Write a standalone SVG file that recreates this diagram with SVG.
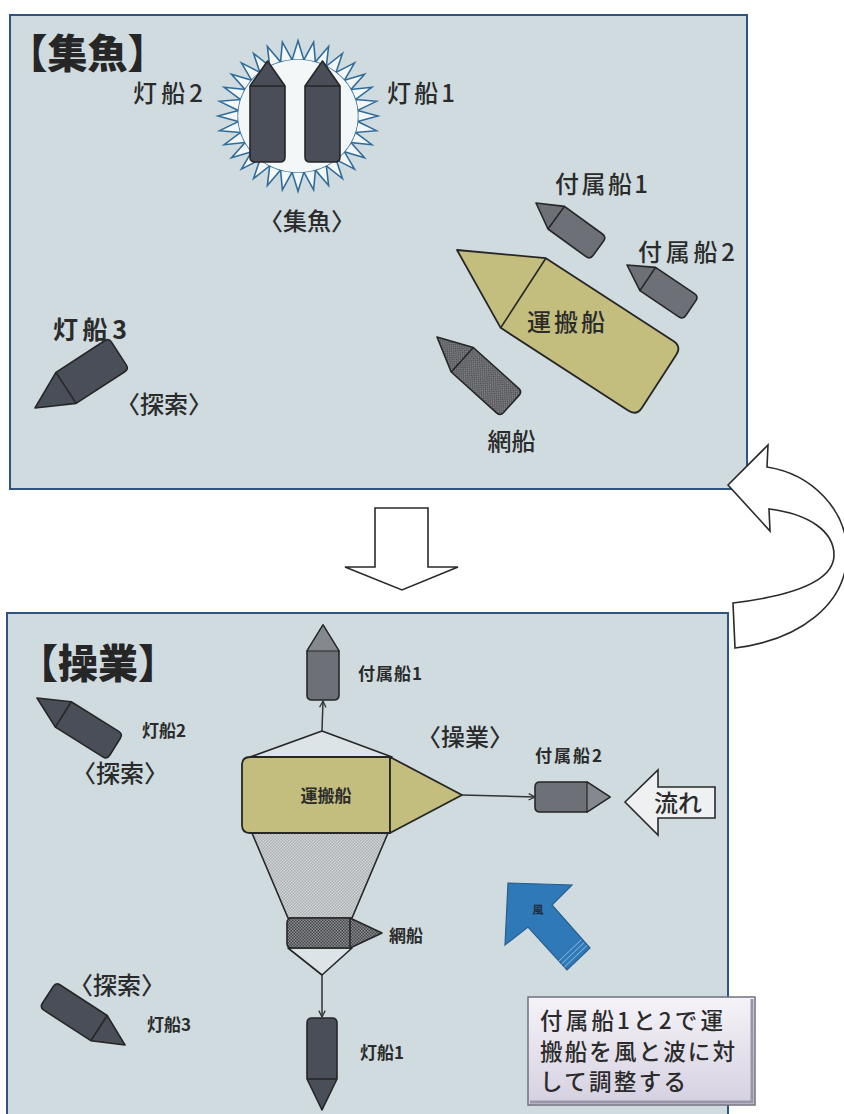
<svg xmlns="http://www.w3.org/2000/svg" xmlns:xlink="http://www.w3.org/1999/xlink" width="844" height="1114" viewBox="0 0 844 1114">
  <style>
    text { font-family: "Noto Sans CJK JP", "Noto Sans", sans-serif; fill: #2b2b2b; }
    .title { font-size: 40px; font-weight: 900; fill: #262626; }
    .lbl { font-size: 24px; font-weight: 500; }
    .lbl-b { font-size: 25px; font-weight: 700; }
    .sm { font-size: 17px; font-weight: 700; }
    .note { font-size: 22.5px; font-weight: 500; }
    .panel { fill: #cfdbdf; stroke: #2f5480; stroke-width: 2; }
    .edge { fill: none; stroke: #262626; stroke-width: 1.6; }
    .lamp { fill: #4a4e59; stroke: #262626; stroke-width: 1.6; stroke-linejoin: round; }
    .tender { fill: #6d7077; stroke: #262626; stroke-width: 1.6; stroke-linejoin: round; }
    .tnose { fill: #85888e; stroke: #262626; stroke-width: 1.2; stroke-linejoin: round; }
    .carrier { fill: #c3bd7e; stroke: #262626; stroke-width: 1.8; stroke-linejoin: round; }
    .netboat { fill: url(#hatchDark); stroke: #262626; stroke-width: 1.6; stroke-linejoin: round; }
    .netarea { fill: url(#hatchLight); stroke: #262626; stroke-width: 1.6; stroke-linejoin: round; }
    .rope { fill: #dde4e7; stroke: #262626; stroke-width: 1.6; stroke-linejoin: round; }
    .conn { fill: none; stroke: #333; stroke-width: 1.5; marker-end: url(#arr); }
    .block { fill: #ffffff; stroke: #2a2a2a; stroke-width: 1.6; stroke-linejoin: miter; }
  </style>
  <defs>
    <pattern id="hatchDark" width="3" height="3" patternUnits="userSpaceOnUse">
      <rect width="3" height="3" fill="#8a8c90"/>
      <rect width="1.5" height="1.5" fill="#45474c"/>
      <rect x="1.5" y="1.5" width="1.5" height="1.5" fill="#45474c"/>
    </pattern>
    <pattern id="hatchLight" width="3" height="3" patternUnits="userSpaceOnUse">
      <rect width="3" height="3" fill="#d3d7d9"/>
      <rect width="1.5" height="1.5" fill="#a9aeb1"/>
      <rect x="1.5" y="1.5" width="1.5" height="1.5" fill="#a9aeb1"/>
    </pattern>
    <linearGradient id="noteFill" x1="0" y1="0" x2="0" y2="1">
      <stop offset="0" stop-color="#f5f3f8"/>
      <stop offset="1" stop-color="#d5d0e0"/>
    </linearGradient>
    <marker id="arr" viewBox="0 0 10 10" refX="9" refY="5" markerWidth="8" markerHeight="8" markerUnits="userSpaceOnUse" orient="auto">
      <path d="M1,1 L9,5 L1,9" fill="none" stroke="#333" stroke-width="1.6"/>
    </marker>
    <!-- spike of the light burst -->
    <path id="spike" d="M-5.9,-59.7 L0,-80 L5.9,-59.7 Z"/>
    <!-- hull shapes: bow at origin, stern toward +y -->
    <path id="lampTall" d="M0,0 L17.5,25 L17.5,96 Q17.5,101 12.5,101 L-12.5,101 Q-17.5,101 -17.5,96 L-17.5,25 Z"/>
    <path id="lampTallLine" d="M-17.5,25 H17.5"/>
    <path id="tenderTop" d="M0,0 L14,25 L14,72 Q14,77 9,77 L-9,77 Q-14,77 -14,72 L-14,25 Z"/>
    <path id="tenderTopLine" d="M-14,25 H14"/>
    <path id="lampSmall" d="M0,0 L15,31 L15,87 Q15,92 10,92 L-10,92 Q-15,92 -15,87 L-15,31 Z"/>
    <path id="lampSmallLine" d="M-15,31 H15"/>
  </defs>

  <!-- ===== upper panel : gathering fish ===== -->
  <g id="panel-gather">
    <rect class="panel" x="10" y="15" width="737" height="474"/>
    <text class="title" x="87.5" y="68" text-anchor="middle">【集魚】</text>
  </g>

  <g id="light-burst" transform="translate(298,116) scale(1,0.94)">
    <g fill="#f4f7f8" stroke="#2f6c9c" stroke-width="1.6" stroke-linejoin="miter">
      <use xlink:href="#spike" transform="rotate(0)"/>
      <use xlink:href="#spike" transform="rotate(11.25)"/>
      <use xlink:href="#spike" transform="rotate(22.5)"/>
      <use xlink:href="#spike" transform="rotate(33.75)"/>
      <use xlink:href="#spike" transform="rotate(45)"/>
      <use xlink:href="#spike" transform="rotate(56.25)"/>
      <use xlink:href="#spike" transform="rotate(67.5)"/>
      <use xlink:href="#spike" transform="rotate(78.75)"/>
      <use xlink:href="#spike" transform="rotate(90)"/>
      <use xlink:href="#spike" transform="rotate(101.25)"/>
      <use xlink:href="#spike" transform="rotate(112.5)"/>
      <use xlink:href="#spike" transform="rotate(123.75)"/>
      <use xlink:href="#spike" transform="rotate(135)"/>
      <use xlink:href="#spike" transform="rotate(146.25)"/>
      <use xlink:href="#spike" transform="rotate(157.5)"/>
      <use xlink:href="#spike" transform="rotate(168.75)"/>
      <use xlink:href="#spike" transform="rotate(180)"/>
      <use xlink:href="#spike" transform="rotate(191.25)"/>
      <use xlink:href="#spike" transform="rotate(202.5)"/>
      <use xlink:href="#spike" transform="rotate(213.75)"/>
      <use xlink:href="#spike" transform="rotate(225)"/>
      <use xlink:href="#spike" transform="rotate(236.25)"/>
      <use xlink:href="#spike" transform="rotate(247.5)"/>
      <use xlink:href="#spike" transform="rotate(258.75)"/>
      <use xlink:href="#spike" transform="rotate(270)"/>
      <use xlink:href="#spike" transform="rotate(281.25)"/>
      <use xlink:href="#spike" transform="rotate(292.5)"/>
      <use xlink:href="#spike" transform="rotate(303.75)"/>
      <use xlink:href="#spike" transform="rotate(315)"/>
      <use xlink:href="#spike" transform="rotate(326.25)"/>
      <use xlink:href="#spike" transform="rotate(337.5)"/>
      <use xlink:href="#spike" transform="rotate(348.75)"/>
    </g>
    <circle r="59.8" fill="#f4f7f8"/>
  </g>

  <g id="g-lamp2">
    <g transform="translate(267.5,61)">
      <use xlink:href="#lampTall" class="lamp"/>
      <use xlink:href="#lampTallLine" class="edge"/>
    </g>
    <text class="lbl" x="133" y="102" textLength="70" lengthAdjust="spacing">灯船2</text>
  </g>

  <g id="g-lamp1">
    <g transform="translate(322.5,61)">
      <use xlink:href="#lampTall" class="lamp"/>
      <use xlink:href="#lampTallLine" class="edge"/>
    </g>
    <text class="lbl" x="387" y="102" textLength="68" lengthAdjust="spacing">灯船1</text>
  </g>

  <text class="lbl" x="307" y="230" text-anchor="middle">〈集魚〉</text>

  <g id="g-tender1">
    <g transform="translate(536,203) rotate(-54)">
      <use xlink:href="#tenderTop" class="tender"/>
      <use xlink:href="#tenderTopLine" class="edge"/>
    </g>
    <text class="lbl" x="555" y="193" textLength="93" lengthAdjust="spacing">付属船1</text>
  </g>

  <g id="g-tender2">
    <g transform="translate(627,265) rotate(-56)">
      <use xlink:href="#tenderTop" class="tender"/>
      <use xlink:href="#tenderTopLine" class="edge"/>
    </g>
    <text class="lbl" x="638" y="261" textLength="97" lengthAdjust="spacing">付属船2</text>
  </g>

  <g id="g-carrier">
    <g transform="translate(457,250) rotate(-57)">
      <path class="carrier" d="M0,0 L41.5,79 L41.5,231 Q41.5,241 31.5,241 L-31.5,241 Q-41.5,241 -41.5,231 L-41.5,79 Z"/>
      <path class="edge" d="M-41.5,79 H41.5"/>
    </g>
    <text class="lbl" x="566" y="331" text-anchor="middle" font-size="26" textLength="78" lengthAdjust="spacing">運搬船</text>
  </g>

  <g id="g-netboat">
    <g transform="translate(437,337) rotate(-48)">
      <path class="netboat" d="M0,0 L16.5,34 L16.5,95 Q16.5,100 11.5,100 L-11.5,100 Q-16.5,100 -16.5,95 L-16.5,34 Z"/>
      <path class="edge" d="M-16.5,34 H16.5"/>
    </g>
    <text class="lbl" x="511.5" y="450" text-anchor="middle" font-size="26">網船</text>
  </g>

  <g id="g-lamp3">
    <g transform="translate(35,408) rotate(-123)">
      <path class="lamp" d="M0,0 L18.5,37 L18.5,95 Q18.5,100 13.5,100 L-13.5,100 Q-18.5,100 -18.5,95 L-18.5,37 Z"/>
      <path class="edge" d="M-18.5,37 H18.5"/>
    </g>
    <text class="lbl-b" x="53" y="339" textLength="74" lengthAdjust="spacing">灯船3</text>
    <text class="lbl" x="164" y="413" text-anchor="middle">〈探索〉</text>
  </g>

  <!-- ===== lower panel : fishing operation ===== -->
  <g id="panel-operate">
    <rect class="panel" x="7" y="613" width="721" height="520"/>
    <text class="title" x="98" y="678" text-anchor="middle">【操業】</text>
  </g>

  <g id="o-lamp2">
    <g transform="translate(37,698) rotate(-58)">
      <use xlink:href="#lampSmall" class="lamp"/>
      <use xlink:href="#lampSmallLine" class="edge"/>
    </g>
    <text class="sm" x="142" y="737">灯船2</text>
    <text class="lbl" x="120" y="782" text-anchor="middle">〈探索〉</text>
  </g>

  <g id="o-rope-top">
    <polygon class="rope" points="322,731 250,757 392,757"/>
  </g>

  <g id="o-net">
    <polygon class="netarea" points="252,833 388,833 352,918 288,918"/>
  </g>

  <g id="o-carrier">
    <path class="carrier" d="M250,757 H390 V833 H250 Q242,833 242,825 V765 Q242,757 250,757 Z"/>
    <path class="carrier" d="M390,757 L462,795 L390,833 Z"/>
    <text class="sm" x="326" y="802" text-anchor="middle">運搬船</text>
  </g>

  <g id="o-rope-bottom">
    <polygon class="rope" points="288,948 352,948 322,975"/>
  </g>

  <g id="o-netboat">
    <g transform="translate(382,933) rotate(90)">
      <path class="netboat" d="M0,0 L15,32 L15,90 Q15,95 10,95 L-10,95 Q-15,95 -15,90 L-15,32 Z"/>
      <path class="edge" d="M-15,32 H15"/>
    </g>
    <text class="sm" x="389" y="942">網船</text>
  </g>

  <g id="o-tender1">
    <g transform="translate(323,625)">
      <path class="tender" d="M0,0 L16,26 L16,70 Q16,75 11,75 L-11,75 Q-16,75 -16,70 L-16,26 Z"/>
      <path class="tnose" d="M0,0 L16,26 L-16,26 Z"/>
    </g>
    <text class="sm" x="358" y="680" textLength="64" lengthAdjust="spacing">付属船1</text>
  </g>

  <g id="o-tender2">
    <g transform="translate(610,797) rotate(90)">
      <path class="tender" d="M0,0 L15,23 L15,70 Q15,75 10,75 L-10,75 Q-15,75 -15,70 L-15,23 Z"/>
      <path class="tnose" d="M0,0 L15,23 L-15,23 Z"/>
    </g>
    <text class="sm" x="535" y="762" textLength="67" lengthAdjust="spacing">付属船2</text>
  </g>

  <text class="lbl" x="465" y="746" text-anchor="middle">〈操業〉</text>

  <g id="o-lamp1">
    <g transform="translate(322,1110) rotate(180)">
      <use xlink:href="#lampSmall" class="lamp"/>
      <use xlink:href="#lampSmallLine" class="edge"/>
    </g>
    <text class="sm" x="360" y="1059">灯船1</text>
  </g>

  <g id="o-lamp3">
    <g transform="translate(125,1045) rotate(123)">
      <use xlink:href="#lampSmall" class="lamp"/>
      <use xlink:href="#lampSmallLine" class="edge"/>
    </g>
    <text class="lbl" x="117" y="994" text-anchor="middle">〈探索〉</text>
    <text class="sm" x="147" y="1031">灯船3</text>
  </g>

  <g id="o-current">
    <polygon fill="#eef0f1" stroke="#2a2a2a" stroke-width="1.6" points="625,802 658,770 658,787 715,787 715,818 658,818 658,835"/>
    <text class="lbl" x="678" y="812" text-anchor="middle">流れ</text>
  </g>

  <g id="o-wind">
    <polygon fill="#3079b8" stroke="#275f8f" stroke-width="1.2" stroke-linejoin="miter" points="508,883 572,885 552,905 590,948 567,970 528,927 505,945"/>
    <g stroke="#8fbbe0" stroke-width="1">
      <line x1="587.2" y1="945.2" x2="564.2" y2="967.2"/>
      <line x1="584.3" y1="942.3" x2="561.3" y2="964.3"/>
      <line x1="581.5" y1="939.5" x2="558.5" y2="961.5"/>
    </g>
    <text x="538" y="914" text-anchor="middle" font-size="11" font-weight="700" style="fill:#1d2a3a">風</text>
  </g>

  <g id="o-note">
    <rect x="528" y="997" width="227" height="108" fill="url(#noteFill)" stroke="#707080" stroke-width="1.5"/>
    <path d="M752,999 V1102 H530" fill="none" stroke="#9896a8" stroke-width="3"/>
    <text class="note" x="540" y="1029" textLength="183" lengthAdjust="spacing">付属船1と2で運</text>
    <text class="note" x="540" y="1060" textLength="195" lengthAdjust="spacing">搬船を風と波に対</text>
    <text class="note" x="540" y="1090" textLength="146" lengthAdjust="spacing">して調整する</text>
  </g>

  <!-- connectors between the hulls -->
  <g id="connectors">
    <line class="conn" x1="322" y1="731" x2="323" y2="701"/>
    <line class="conn" x1="462" y1="795" x2="535" y2="797"/>
    <line class="conn" x1="322" y1="975" x2="322" y2="1017"/>
  </g>

  <!-- process arrows between the two stages -->
  <g id="flow-down">
    <polygon class="block" points="375,508 428,508 428,567 458,567 402,590 345,567 375,567"/>
  </g>
  <g id="flow-return">
    <path class="block" d="M728,485 L768,445 L767,467 C812,474 847,510 847,553 C847,604 800,640 735,648 L733,603 C790,596 834,582 834,555 C834,532 810,514 769,509 L770,531 Z"/>
  </g>
</svg>
